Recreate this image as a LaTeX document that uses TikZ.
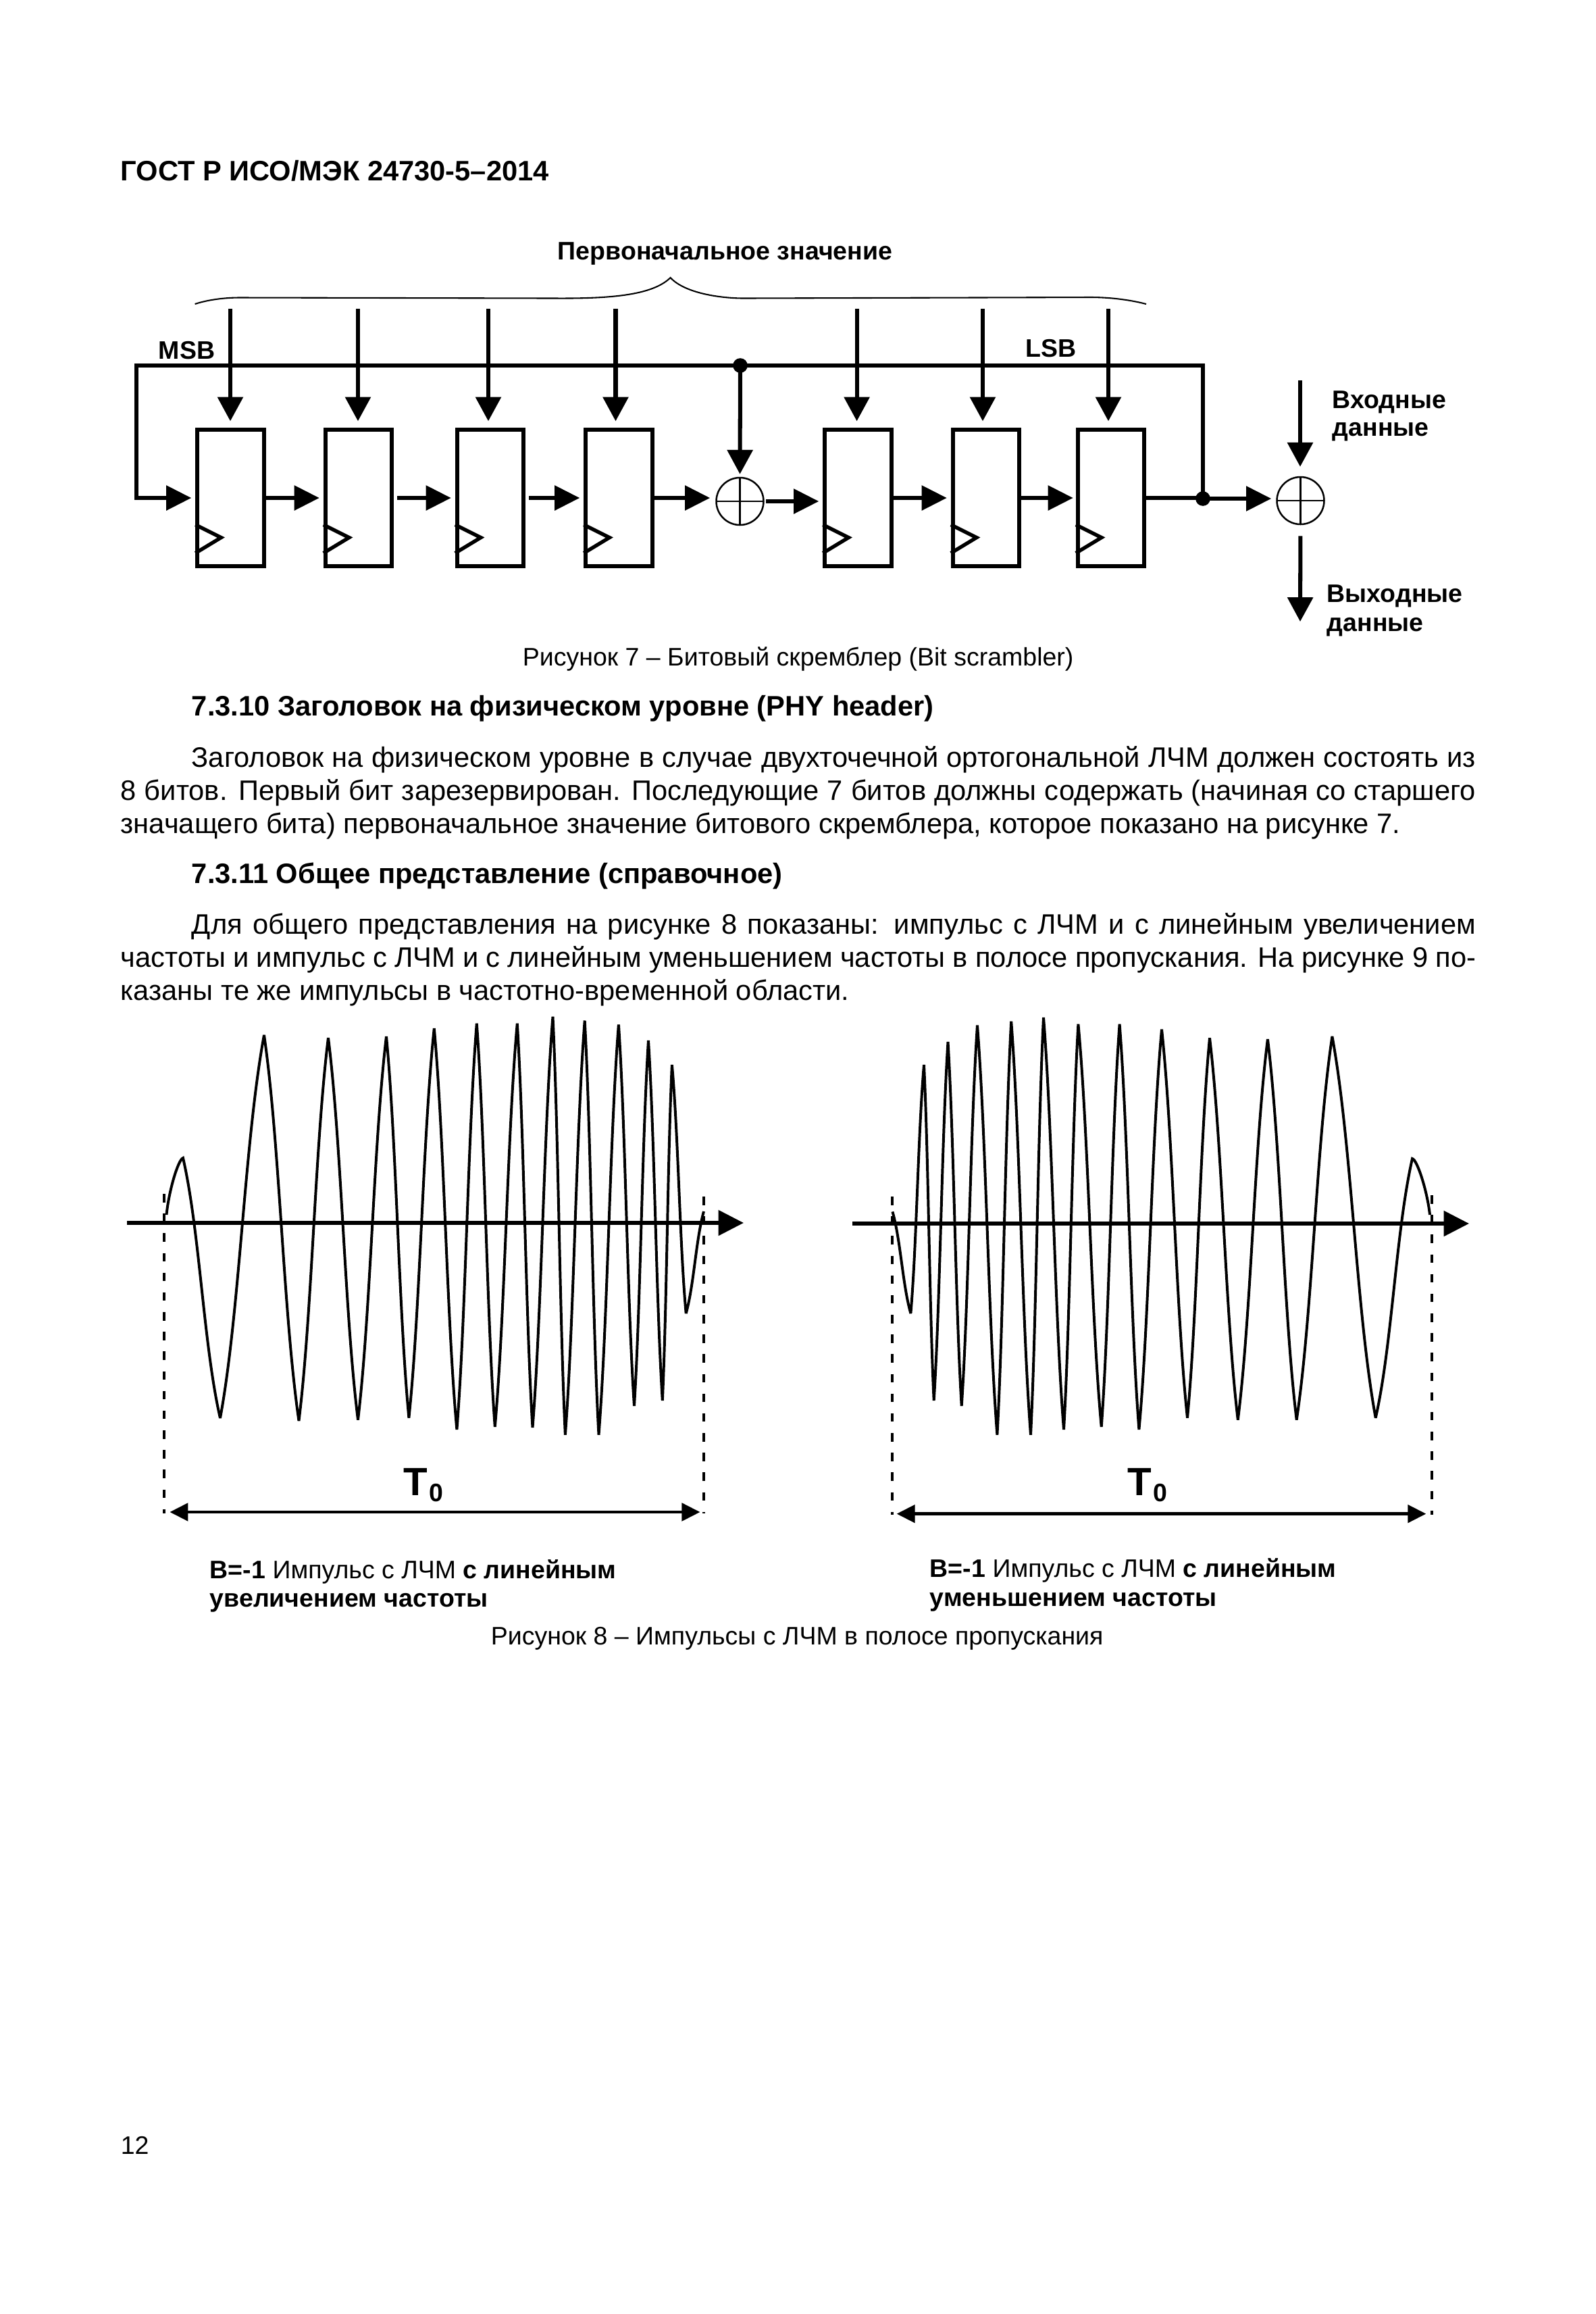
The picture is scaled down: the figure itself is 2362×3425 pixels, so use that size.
\documentclass[tikz,border=0pt]{standalone}
\usepackage{fontspec}
\setmainfont{Liberation Sans}
\usetikzlibrary{arrows.meta,calc}
\tikzset{
    txt/.style={anchor=base west, inner sep=0pt, font=\fontsize{10}{12}\selectfont},
    boldtxt/.style={txt, font=\fontsize{10}{12}\selectfont\bfseries},
    figtxt/.style={txt, font=\fontsize{9}{12}\selectfont\bfseries},
    capt/.style={txt, font=\fontsize{9}{12}\selectfont},
    para/.style={anchor=base west, inner sep=0pt, text width=481.5pt, align=justify, font=\fontsize{10}{11.84}\selectfont},
    regbox/.style={draw, line width=1.45pt, minimum width=23.6pt, minimum height=48.3pt},
    clk/.style={line width=1.3pt},
    sig/.style={line width=1.45pt},
    tipv/.style={sig, -{Triangle[length=8.6pt,width=8.9pt]}},
    tiph/.style={sig, -{Triangle[length=8.9pt,width=8.6pt]}},
    xorsym/.style={circle, draw, line width=0.6pt, minimum size=16.8pt, inner sep=0pt,
        path picture={\draw[line width=0.6pt] (path picture bounding box.north) -- (path picture bounding box.south)
            (path picture bounding box.west) -- (path picture bounding box.east);}},
    joint/.style={circle, fill=black, minimum size=5.2pt, inner sep=0pt},
    wave/.style={line width=0.95pt, line join=miter, miter limit=4},
    halfwave/.style={to path={let \p1=(\tikztostart),\p2=(\tikztotarget) in
        .. controls ({\x1+0.45*(\x2-\x1)},{\y1+0.28*(\y2-\y1)}) and ({\x2-0.45*(\x2-\x1)},{\y2-0.28*(\y2-\y1)}) .. (\tikztotarget)}},
    axisline/.style={line width=1.3pt, -{Triangle[length=9pt,width=8.9pt]}},
    dimline/.style={line width=1.05pt, {Triangle[length=6.5pt,width=6.3pt]}-{Triangle[length=6.5pt,width=6.3pt]}},
    guide/.style={line width=0.9pt, dash pattern=on 3pt off 4pt},
    tzero/.style={txt, font=\fontsize{14}{14}\selectfont\bfseries}
}
\begin{document}
\begin{tikzpicture}[x=0.24pt, y=-0.24pt]
    \useasboundingbox (0,0) rectangle (2362,3425);

    % header
    \node[boldtxt] (head) at (178,267) {ГОСТ Р ИСО/МЭК 24730-5–2014};

    % registers
    \node[regbox] (r1) at (341.5,737) {};
    \node[regbox] (r2) at (531,737) {};
    \node[regbox] (r3) at (726,737) {};
    \node[regbox] (r4) at (916.5,737) {};
    \node[regbox] (r5) at (1270.5,737) {};
    \node[regbox] (r6) at (1460,737) {};
    \node[regbox] (r7) at (1645,737) {};
    \foreach \r in {r1,r2,r3,r4,r5,r6,r7}
        \draw[clk] ($(\r.south west)+(0,-64)$) -- ++(38,19) -- ++(-38,23);

    % adders and joints
    \node[xorsym] (x1) at (1095.5,742) {};
    \node[xorsym] (x2) at (1925.5,741) {};
    \node[joint] (d1) at (1096,541) {};
    \node[joint] (d2) at (1781,738) {};

    % free ends
    \coordinate (in1) at (341,457);
    \coordinate (in2) at (530,457);
    \coordinate (in3) at (723,457);
    \coordinate (in4) at (911.5,457);
    \coordinate (in5) at (1268.6,457);
    \coordinate (in6) at (1455,457);
    \coordinate (in7) at (1641,457);
    \coordinate (bl) at (202,541);
    \coordinate (din) at (1925,563);
    \coordinate (dout) at (1925,920);

    % initial value inputs
    \draw[tipv, shorten >=10*0.24pt] (in1) -- (in1 |- r1.north);
    \draw[tipv, shorten >=10*0.24pt] (in2) -- (in2 |- r2.north);
    \draw[tipv, shorten >=10*0.24pt] (in3) -- (in3 |- r3.north);
    \draw[tipv, shorten >=10*0.24pt] (in4) -- (in4 |- r4.north);
    \draw[tipv, shorten >=10*0.24pt] (in5) -- (in5 |- r5.north);
    \draw[tipv, shorten >=10*0.24pt] (in6) -- (in6 |- r6.north);
    \draw[tipv, shorten >=10*0.24pt] (in7) -- (in7 |- r7.north);

    % feedback bus
    \draw[tiph, line join=miter, shorten >=6*0.24pt] (d2.center) |- (bl) |- (r1.west);
    \draw[tipv, shorten >=4*0.24pt] (d1.center) -- (x1.north);

    % shift chain
    \draw[tiph, shorten >=6*0.24pt] (r1.east) -- (r2.west);
    \draw[tiph, shorten <=5*0.24pt, shorten >=6*0.24pt] (r2.east) -- (r3.west);
    \draw[tiph, shorten <=5*0.24pt, shorten >=6*0.24pt] (r3.east) -- (r4.west);
    \draw[tiph, shorten >=8*0.24pt] (r4.east) -- (r4.east -| x1.west);
    \draw[tiph, shorten <=2*0.24pt, shorten >=6*0.24pt] (x1.east) -- (x1.east -| r5.west);
    \draw[tiph, shorten >=6*0.24pt] (r5.east) -- (r6.west);
    \draw[tiph, shorten >=4*0.24pt] (r6.east) -- (r7.west);
    \draw[sig] (r7.east) -- (r7.east -| d2);
    \draw[tiph, shorten >=7*0.24pt] (d2.center) -- (d2 -| x2.west);

    % data in and out
    \draw[tipv, shorten >=14*0.24pt] (din) -- (din |- x2.north);
    \draw[tipv, shorten <=16*0.24pt] (x2.south) -- (dout);

    % brace
    \draw[line width=0.5pt] (288.6,450) .. controls (310,443) and (335,440.5) .. (355,440.5) -- (820,441.5)
        .. controls (900,442) and (965,438) .. (992.6,411)
        .. controls (1015,435) and (1070,441.5) .. (1101,441.5) -- (1615,440)
        .. controls (1640,440) and (1670,443) .. (1697,450);

    % labels of figure 7
    \node[figtxt] (init) at (825,384) {Первоначальное значение};
    \node[figtxt] (msb) at (234,531) {MSB};
    \node[figtxt] (lsb) at (1518,528) {LSB};
    \node[figtxt] (dina) at (1972,604) {Входные};
    \node[figtxt] (dinb) at (1972,645) {данные};
    \node[figtxt] (douta) at (1964,891) {Выходные};
    \node[figtxt] (doutb) at (1964,934) {данные};
    \node[capt] (cap7) at (773,985) {Рисунок 7 – Битовый скремблер (Bit scrambler)};

    % body text
    \node[boldtxt] (sec10) at (283,1059) {7.3.10 Заголовок на физическом уровне (PHY header)};
    \node[para] (par10) at (178,1135) {\hspace*{25.2pt}Заголовок на физическом уровне в случае двухточечной ортогональной ЛЧМ должен состоять из\linebreak
        8 битов. Первый бит зарезервирован. Последующие 7 битов должны содержать (начиная со старшего\linebreak
        значащего бита) первоначальное значение битового скремблера, которое показано на рисунке 7.};
    \node[boldtxt] (sec11) at (283,1307) {7.3.11 Общее представление (справочное)};
    \node[para] (par11) at (178,1382) {\hspace*{25.2pt}Для общего представления на рисунке 8 показаны: импульс с ЛЧМ и с линейным увеличением\linebreak
        частоты и импульс с ЛЧМ и с линейным уменьшением частоты в полосе пропускания. На рисунке 9 по-\linebreak
        казаны те же импульсы в частотно-временной области.};

    % left pulse
    \coordinate (g1a) at (243,1767);
    \coordinate (g1b) at (243,2240);
    \coordinate (g2a) at (1042,1771);
    \coordinate (g2b) at (1042,2240);
    \draw[guide] (g1a) -- (g1b);
    \draw[guide] (g2a) -- (g2b);
    \draw[wave] (246.5,1798) .. controls (250,1762) and (264,1716) .. (271,1714)
        \foreach \px/\py in {326/2099,391/1532,442.5/2103,486/1536,530/2101.5,572/1534,605.4/2098.6,642.8/1522,
            676.4/2116,705.8/1514.7,732.8/2112,765.8/1514.7,788.5/2113,818.5/1504.7,836.9/2123.8,865.7/1510.6,
            886.5/2123.8,915.9/1516.4,939/2081,960/1540,980.8/2073,994.9/1576,1015.7/1944,1042/1793}
        { to[halfwave] (\px,\py) };
    \coordinate (a1a) at (188,1810);
    \coordinate (a1b) at (1101,1810);
    \draw[axisline] (a1a) -- (a1b);
    \coordinate (t1a) at (251.4,2238);
    \coordinate (t1b) at (1036.5,2238);
    \draw[dimline] (t1a) -- (t1b);
    \node[tzero] (t01) at (597,2213) {T\hspace{0.6pt}\raisebox{-2.2pt}{\fontsize{9}{9}\selectfont 0}};
    \node[figtxt] (lab1a) at (310,2336) {B=-1 \mdseries Импульс с ЛЧМ \bfseries с линейным};
    \node[figtxt] (lab1b) at (310,2378) {увеличением частоты};

    % right pulse
    \coordinate (g3a) at (1321,1771);
    \coordinate (g3b) at (1321,2242);
    \coordinate (g4a) at (2120,1769);
    \coordinate (g4b) at (2120,2242);
    \draw[guide] (g3a) -- (g3b);
    \draw[guide] (g4a) -- (g4b);
    \draw[wave] (1321.4,1793.4)
        \foreach \px/\py in {1348.4/1944,1368/1576,1382.7/2073,1403.5/1542,1423.7/2081,1447/1517.6,1476.4/2123.8,
            1497.2/1511.7,1526/2123.8,1545/1505.9,1575/2116,1596.4/1515.8,1630.7/2112,1657.6/1515.8,1686.4/2116,
            1720/1523.5,1758/2098.6,1791/1536.4,1832.8/2101.5,1876.9/1538,1919.7/2101.5,1972.4/1534,2036.7/2098.6,2091/1715}
        { to[halfwave] (\px,\py) }
        .. controls (2098,1716) and (2113,1762) .. (2117,1798);
    \coordinate (a2a) at (1262,1811);
    \coordinate (a2b) at (2175,1811);
    \draw[axisline] (a2a) -- (a2b);
    \coordinate (t2a) at (1327.6,2240.6);
    \coordinate (t2b) at (2111.4,2240.6);
    \draw[dimline] (t2a) -- (t2b);
    \node[tzero] (t02) at (1669,2213) {T\hspace{0.6pt}\raisebox{-2.2pt}{\fontsize{9}{9}\selectfont 0}};
    \node[figtxt] (lab2a) at (1376,2334) {B=-1 \mdseries Импульс с ЛЧМ \bfseries с линейным};
    \node[figtxt] (lab2b) at (1376,2377) {уменьшением частоты};
    \node[capt] (cap8) at (726,2434) {Рисунок 8 – Импульсы с ЛЧМ в полосе пропускания};

    % page number
    \node[capt] (page) at (178,3188) {12};
\end{tikzpicture}
\end{document}
